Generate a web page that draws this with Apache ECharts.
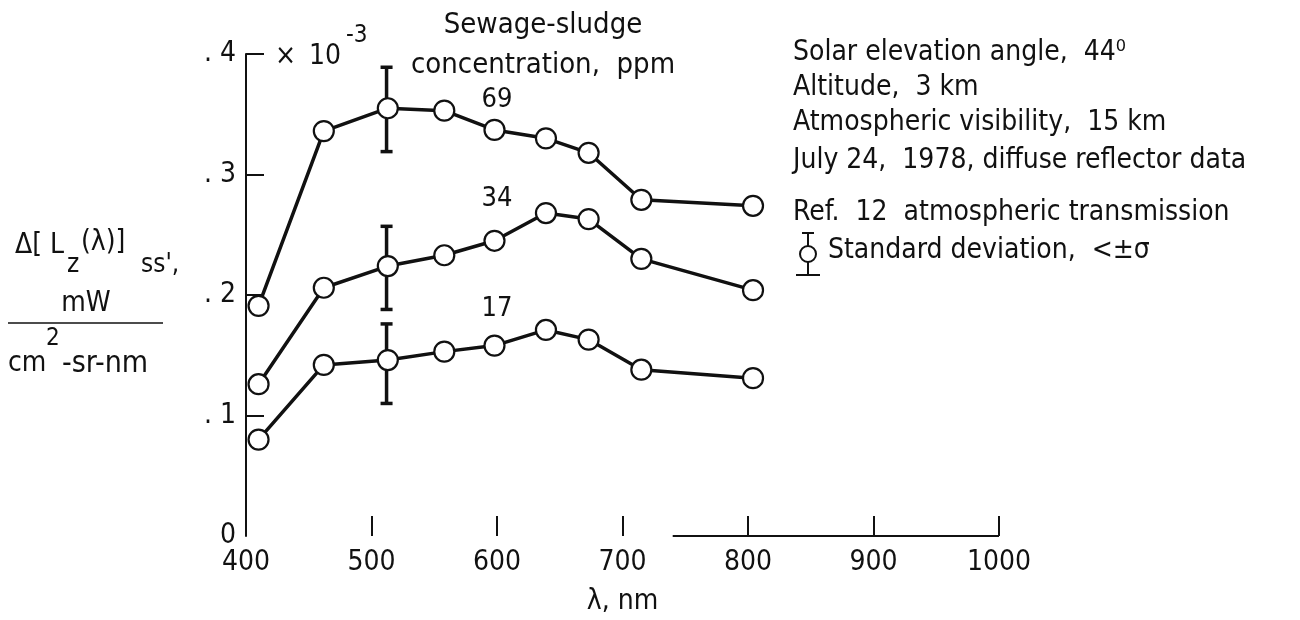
<!DOCTYPE html>
<html>
<head>
<meta charset="utf-8">
<script src="https://cdn.jsdelivr.net/npm/echarts@6/dist/echarts.min.js"></script>
<style>
  html, body { margin: 0; padding: 0; background: #fff; }
  #chart { width: 1300px; height: 620px; }
</style>
</head>
<body>
<div id="chart"></div>
<script>
// ---------- data ----------
const wavelengths = [410, 462, 513, 558, 598, 639, 673, 715, 804];
const conc69 = [0.191, 0.336, 0.355, 0.353, 0.337, 0.330, 0.318, 0.279, 0.274];
const conc34 = [0.126, 0.206, 0.224, 0.233, 0.245, 0.268, 0.263, 0.230, 0.204];
const conc17 = [0.080, 0.142, 0.146, 0.153, 0.158, 0.171, 0.163, 0.138, 0.131];
const seriesNames = ['69', '34', '17'];
const errWavelength = 512;
const errHigh = [0.389, 0.257, 0.176];
const errLow = [0.319, 0.188, 0.110];
const xTicks = [400, 500, 600, 700, 800, 900, 1000];
const yTicks = [0, 0.1, 0.2, 0.3, 0.4];
const infoLines = [
  'Solar elevation angle,  44⁰',
  'Altitude,  3 km',
  'Atmospheric visibility,  15 km',
  'July 24,  1978, diffuse reflector data',
  'Ref.  12  atmospheric transmission',
  'Standard deviation,  <±σ'
];

// ---------- style ----------
const FONT = "'DejaVu Sans Condensed', 'Liberation Sans Narrow', 'DejaVu Sans', sans-serif";
const BLACK = '#111';

const chart = echarts.init(document.getElementById('chart'), null, { renderer: 'canvas' });

const allSeries = [conc69, conc34, conc17];
const labelAnchors = [[600, 0.362], [600, 0.280], [600, 0.188]];

const lineSeries = allSeries.map((vals, i) => ({
  type: 'line',
  name: seriesNames[i],
  data: wavelengths.map((w, j) => [w, vals[j]]),
  symbol: 'circle',
  symbolSize: 20,
  z: 3,
  lineStyle: { color: BLACK, width: 3.5 },
  itemStyle: { color: '#fff', borderColor: BLACK, borderWidth: 2.2 },
  emphasis: { disabled: true },
  markPoint: {
    symbol: 'circle', symbolSize: 0, silent: true,
    data: [{ coord: labelAnchors[i], value: seriesNames[i] }],
    label: { show: true, position: 'inside', color: BLACK, fontFamily: FONT, fontSize: 27,
      formatter: () => seriesNames[i] }
  }
}));

const errorSeries = {
  type: 'custom',
  name: 'sd',
  z: 2,
  data: errHigh.map((h, i) => [errWavelength, errLow[i], h]),
  renderItem: function (params, api) {
    const x = api.value(0);
    const top = api.coord([x, api.value(2)]);
    const bot = api.coord([x, api.value(1)]);
    const cap = 6;
    const st = { stroke: BLACK, lineWidth: 3.5 };
    return {
      type: 'group',
      children: [
        { type: 'line', shape: { x1: top[0], y1: top[1], x2: bot[0], y2: bot[1] }, style: st },
        { type: 'line', shape: { x1: top[0] - cap, y1: top[1], x2: top[0] + cap, y2: top[1] }, style: st },
        { type: 'line', shape: { x1: bot[0] - cap, y1: bot[1], x2: bot[0] + cap, y2: bot[1] }, style: st }
      ]
    };
  }
};

// partial x-axis baseline seen in the reference
const baseline = {
  type: 'line', data: [], silent: true,
  markLine: {
    symbol: 'none', silent: true, label: { show: false },
    lineStyle: { color: BLACK, width: 2, type: 'solid' },
    data: [[{ coord: [740, 0] }, { coord: [1000, 0] }]]
  }
};

const txt = (x, y, text, size, extra) => Object.assign({
  type: 'text', x: x, y: y,
  style: Object.assign({ text: text, fontFamily: FONT, fontSize: size || 28, fill: BLACK,
    textVerticalAlign: 'middle' }, extra || {})
});

const infoYs = [53, 88, 123, 161, 213, 251];
const info = infoLines.map((t, i) => txt(i === 5 ? 828 : 793, infoYs[i], t, 28));

const graphics = [
  // header
  txt(543, 25, 'Sewage-sludge', 29, { textAlign: 'center' }),
  txt(543, 65, 'concentration,  ppm', 29, { textAlign: 'center' }),
  // x 10^-3
  txt(275, 57, '×', 28),
  txt(309, 57, '10', 28),
  txt(346, 36, '-3', 24),
  // y-axis name
  txt(15, 246, 'Δ[ L', 28),
  txt(67, 265, 'z', 26),
  txt(81, 243, '(λ)]', 28),
  txt(141, 265, "ss',", 26),
  txt(86, 304, 'mW', 28, { textAlign: 'center' }),
  { type: 'line', shape: { x1: 8, y1: 323, x2: 163, y2: 323 }, style: { stroke: BLACK, lineWidth: 1.5 } },
  txt(8, 364, 'cm', 28),
  txt(46, 339, '2', 24),
  txt(62, 364, '-sr-nm', 30),
  // std-dev legend symbol
  { type: 'group', x: 808, y: 254, children: [
    { type: 'line', shape: { x1: 0, y1: -21, x2: 0, y2: 21 }, style: { stroke: BLACK, lineWidth: 2 } },
    { type: 'line', shape: { x1: -6, y1: -21, x2: 6, y2: -21 }, style: { stroke: BLACK, lineWidth: 2 } },
    { type: 'line', shape: { x1: -12, y1: 21, x2: 12, y2: 21 }, style: { stroke: BLACK, lineWidth: 2 } },
    { type: 'circle', shape: { cx: 0, cy: 0, r: 8 }, style: { fill: '#fff', stroke: BLACK, lineWidth: 2 } }
  ]}
].concat(info);

chart.setOption({
  animation: false,
  backgroundColor: '#fff',
  grid: { left: 246, right: 301, top: 54, bottom: 84, containLabel: false, outerBoundsMode: 'none' },
  xAxis: {
    type: 'value', min: 400, max: 1000, interval: 100,
    name: 'λ, nm', nameLocation: 'middle', nameGap: 52,
    nameTextStyle: { fontFamily: FONT, fontSize: 28, color: BLACK },
    axisLine: { show: false },
    axisTick: { show: true, inside: true, length: 20, lineStyle: { color: BLACK, width: 2 },
      customValues: xTicks.slice(1) },
    axisLabel: { fontFamily: FONT, fontSize: 28, color: BLACK, margin: 13, customValues: xTicks,
      formatter: v => String(v) },
    splitLine: { show: false }
  },
  yAxis: {
    type: 'value', min: 0, max: 0.4, interval: 0.1,
    axisLine: { show: true, onZero: false, lineStyle: { color: BLACK, width: 2 } },
    axisTick: { show: true, inside: true, length: 18, lineStyle: { color: BLACK, width: 2 },
      customValues: yTicks.slice(1) },
    axisLabel: { fontFamily: FONT, fontSize: 28, color: BLACK, margin: 10, customValues: yTicks,
      formatter: v => v === 0 ? '0' : '. ' + String(Math.round(v * 10)) },
    splitLine: { show: false }
  },
  graphic: graphics,
  series: lineSeries.concat([errorSeries, baseline])
});
</script>
</body>
</html>
